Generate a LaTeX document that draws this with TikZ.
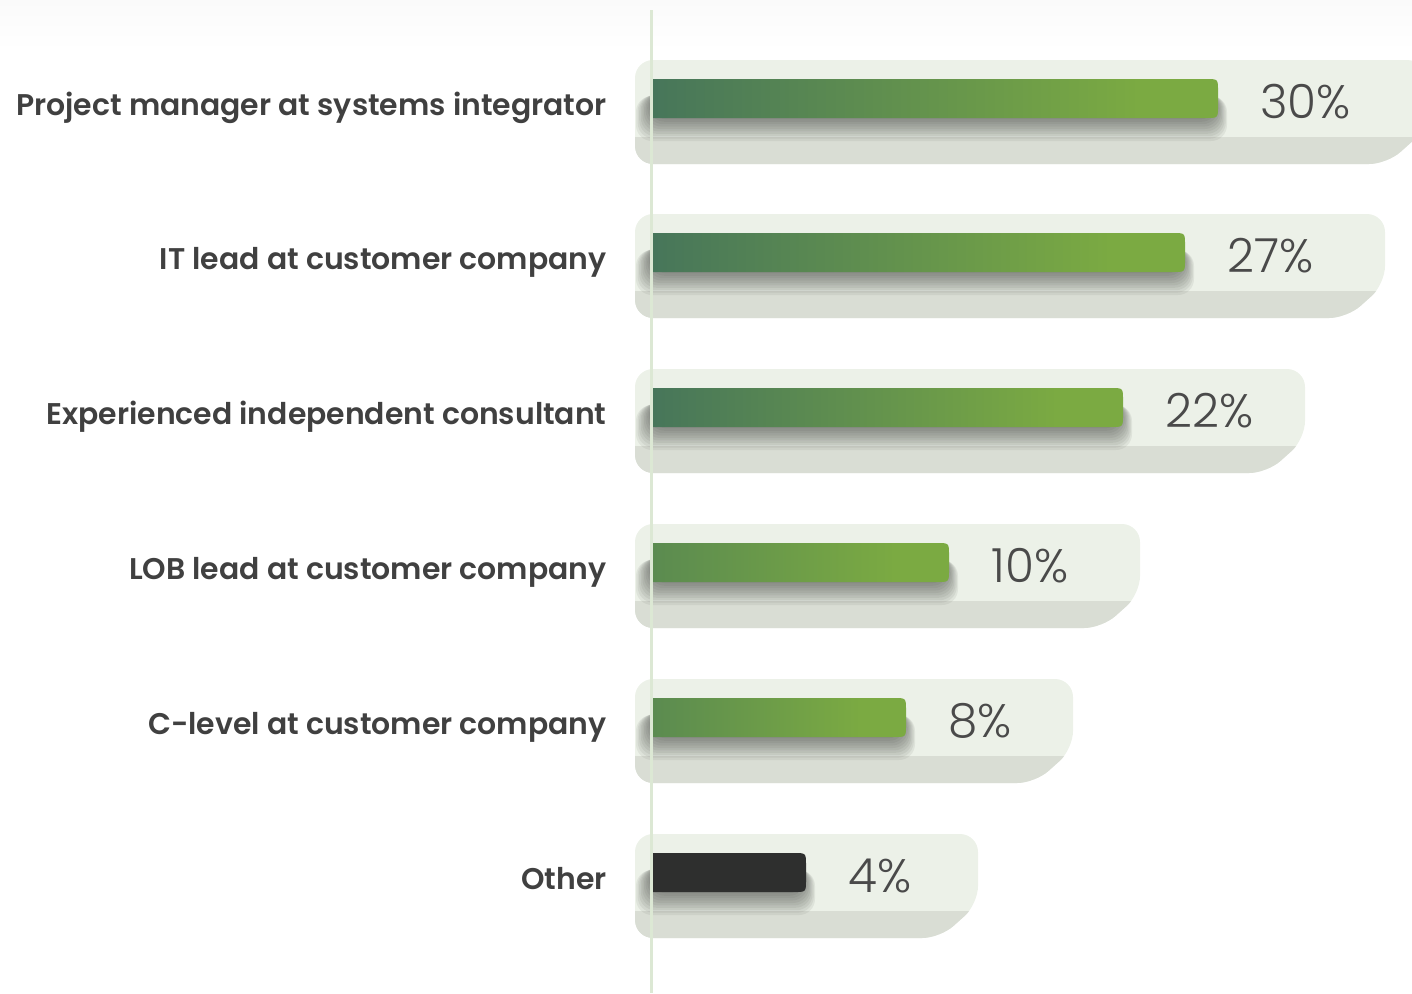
\documentclass[tikz,border=0pt]{standalone}
\usepackage{fontspec}
\newfontfamily\lblfont{Poppins SemiBold}
\newfontfamily\pctfont{Poppins Light}

\definecolor{panelTop}{HTML}{ECF1E8}
\definecolor{panelLow}{HTML}{D9DDD4}
\definecolor{axisGreen}{HTML}{DCE8D4}
\definecolor{barDark}{HTML}{47765A}
\definecolor{barMid}{HTML}{5B8B50}
\definecolor{barLight}{HTML}{7BAA42}
\definecolor{barBlack}{HTML}{2E2F2E}
\definecolor{labelGrey}{HTML}{404040}
\definecolor{pctGrey}{HTML}{4A4A4A}
\definecolor{shadowGrey}{HTML}{3A3C38}

\pgfdeclarehorizontalshading{darkbar}{100bp}{color(0bp)=(barDark); color(25bp)=(barDark); color(68bp)=(barLight); color(100bp)=(barLight)}
\pgfdeclarehorizontalshading{midbar}{100bp}{color(0bp)=(barMid); color(25bp)=(barMid); color(66bp)=(barLight); color(100bp)=(barLight)}
\pgfdeclarehorizontalshading{blackbar}{100bp}{color(0bp)=(barBlack); color(100bp)=(barBlack)}

\begin{document}
\begin{tikzpicture}[x=0.5pt,y=-0.5pt,
    label text/.style={anchor=base east,inner sep=0pt,text=labelGrey,
      font=\lblfont\fontsize{14.95}{18}\selectfont},
    pct text/.style={anchor=base west,inner sep=0pt,text=pctGrey,
      font=\pctfont\fontsize{23.5}{28}\selectfont},
    soft shadow/.style={fill=shadowGrey,opacity=0.075,rounded corners=8pt}]

  \useasboundingbox (0,0) rectangle (1412,993);
  \shade[top color=black!2,bottom color=white] (0,0) rectangle (1412,50);

  % panels, bars, labels
  \foreach \t/\r/\e/\shd/\lbl/\pct/\n in {
      60/1425/1218/darkbar/{Project manager at systems integrator}/30/pm,
      214/1385/1185/darkbar/{IT lead at customer company}/27/it,
      369/1305/1123/darkbar/{Experienced independent consultant}/22/ex,
      524/1140/949/midbar/{LOB lead at customer company}/10/lob,
      679/1073/906/midbar/{C-level at customer company}/8/cl,
      834/978/806/blackbar/{Other}/4/ot} {
    \fill[panelTop,rounded corners=9pt]
      (635,\t) -- (\r,\t) -- (\r,\t+70) -- (\r-38,\t+104) -- (635,\t+104) -- cycle;
    \begin{scope}
      \clip (600,\t+77) rectangle (1440,\t+110);
      \fill[panelLow,rounded corners=9pt]
        (635,\t) -- (\r,\t) -- (\r,\t+70) -- (\r-38,\t+104) -- (635,\t+104) -- cycle;
    \end{scope}
    \foreach \k in {1,...,10}
      \fill[soft shadow] (652-1.6*\k,\t+30+0.6*\k) rectangle (\e-3+1.2*\k,\t+57+2.4*\k);
    \shade[shading=\shd]
      (653,\t+19) -- (\e-12,\t+19) .. controls (\e,\t+19) .. (\e,\t+31)
      -- (\e,\t+46) .. controls (\e,\t+58) .. (\e-12,\t+58) -- (653,\t+58) -- cycle;
    \node[label text] (lbl-\n) at (607,\t+55) {\lbl};
    \node[pct text] (pct-\n) at (\e+42,\t+58) {\pct\%};
  }

  \draw[axisGreen,line width=1.5pt] (651,10) -- (651,993);
\end{tikzpicture}
\end{document}
